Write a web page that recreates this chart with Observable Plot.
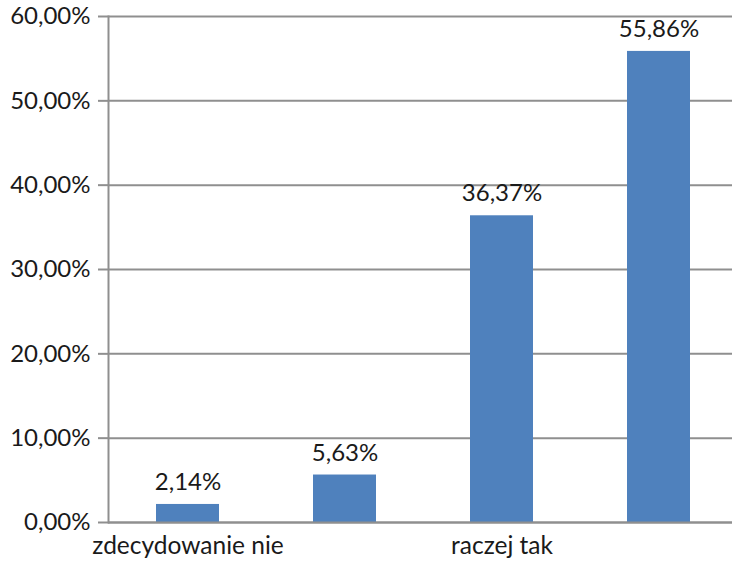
<!DOCTYPE html>
<html><head><meta charset="utf-8">
<script src="https://cdn.jsdelivr.net/npm/d3@7"></script>
<script src="https://cdn.jsdelivr.net/npm/@observablehq/plot@0.6"></script>
<style>body{margin:0;background:#fff}svg{display:block}</style>
</head><body><div id="chart"></div>
<script>
const categories = ["c1", "c2", "c3", "c4"];
const tickLabels = ["zdecydowanie nie", "", "raczej tak", ""];
const values = [2.14, 5.63, 36.37, 55.86];
const yTicks = [0, 10, 20, 30, 40, 50, 60];

const data = categories.map((c, i) => ({cat: c, value: values[i]}));
const fmt = v => v.toFixed(2).replace(".", ",") + "%";
const FONT = "Lato, 'Open Sans', sans-serif";

const chart = Plot.plot({
  width: 732,
  height: 561,
  marginTop: 16,
  marginBottom: 39,
  marginLeft: 108,
  marginRight: 0,
  style: {fontFamily: FONT, fontSize: "24px", color: "#1a1a1a", background: "#fff"},
  x: {domain: categories, range: [108, 737], paddingInner: 0.6, paddingOuter: 0.3, align: 0.5},
  y: {domain: [0, 60]},
  marks: [
    Plot.gridY(yTicks, {stroke: "#8f8f8f", strokeOpacity: 1, strokeWidth: 2}),
    Plot.axisY(yTicks, {tickSize: 10, tickPadding: 8, tickFormat: fmt, stroke: "#8f8f8f", strokeWidth: 2, label: null, fontSize: 24}),
    Plot.frame({anchor: "left", stroke: "#8f8f8f", strokeWidth: 2}),
    Plot.barY(data, {x: "cat", y: "value", fill: "#4f81bd"}),
    Plot.text(data, {x: "cat", y: "value", text: d => fmt(d.value), dy: -22, fontSize: 24, fill: "#1a1a1a"}),
    Plot.axisX({tickSize: 0, tickPadding: 14, tickFormat: (d, i) => tickLabels[categories.indexOf(d)], label: null, fontSize: 24.5}),
    Plot.ruleY([0], {stroke: "#8f8f8f", strokeWidth: 2})
  ]
});
document.getElementById("chart").append(chart);
</script></body></html>
